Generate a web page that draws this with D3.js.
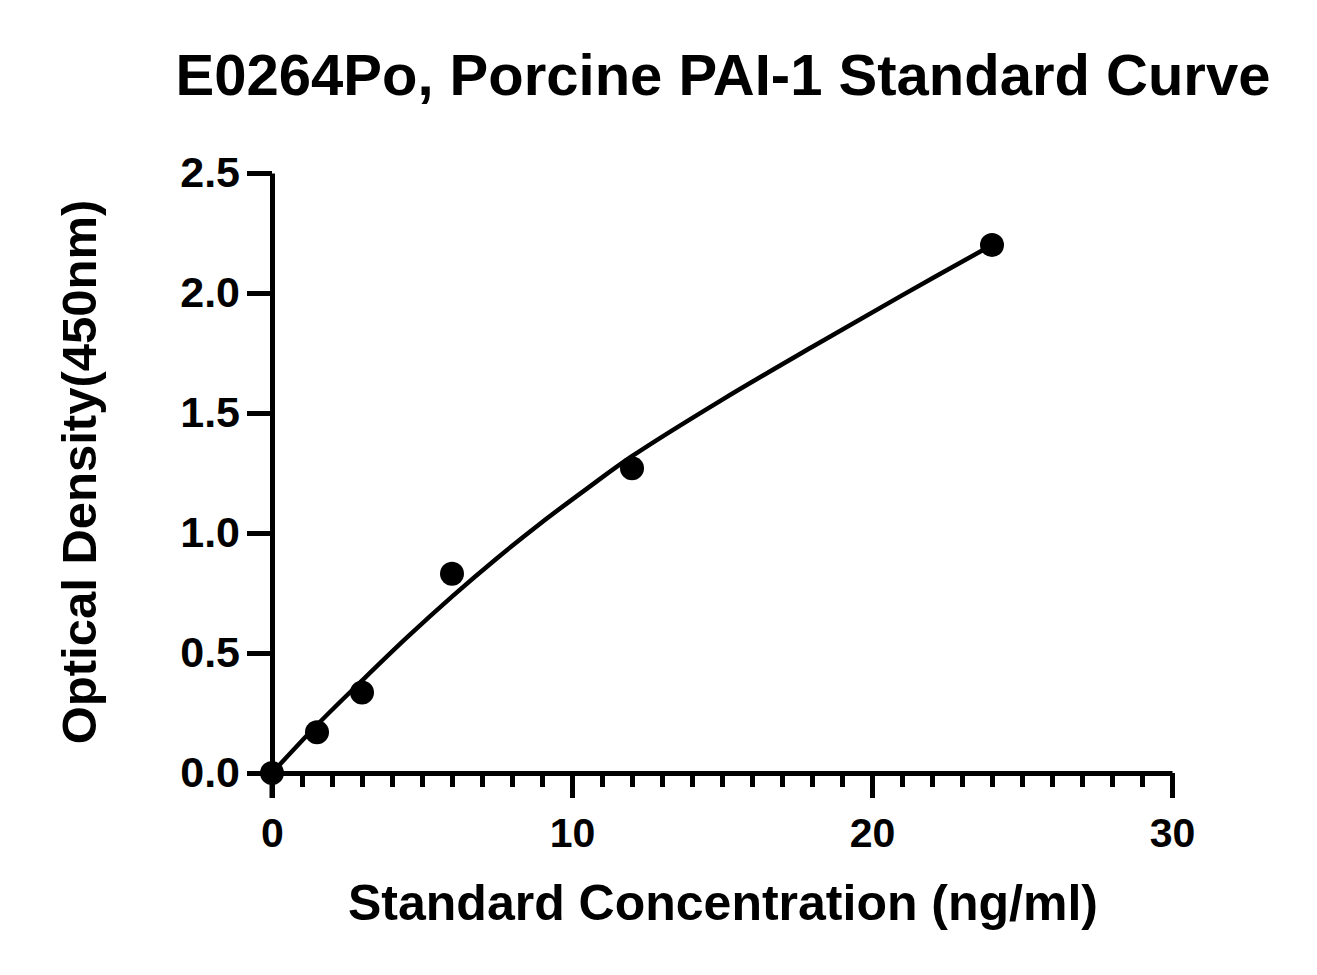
<!DOCTYPE html>
<html>
<head>
<meta charset="utf-8">
<script src="https://cdn.jsdelivr.net/npm/d3@7"></script>
<style>
  body { margin: 0; background: #fff; }
  text { font-family: "Liberation Sans", Arial, sans-serif; font-weight: bold; fill: #000; }
</style>
</head>
<body>
<div id="main"></div>
<script>
// standard points
var conc = [0, 1.5, 3, 6, 12, 24];
var od = [0.0, 0.17, 0.335, 0.83, 1.27, 2.2];

// fitted curve
var fitX = [0, 1.5, 3, 4.5, 6, 7.5, 9, 10.5, 12, 15, 18, 21, 24];
var fitY = [0, 0.2, 0.385, 0.565, 0.735, 0.895, 1.045, 1.185, 1.32, 1.555, 1.775, 1.99, 2.2];

var xMajor = [0, 10, 20, 30];
var xMinor = d3.range(0, 31).filter(function(d) { return d % 10 != 0; });
var yTicks = [0, 0.5, 1.0, 1.5, 2.0, 2.5];

var title = "E0264Po, Porcine PAI-1 Standard Curve";
var xTitle = "Standard Concentration (ng/ml)";
var yTitle = "Optical Density(450nm)";

var width = 1317, height = 975;

var svg = d3.select("#main").append("svg")
	.attr("width", width)
	.attr("height", height);

var x = d3.scaleLinear().domain([0, 30]).range([272, 1172]);
var y = d3.scaleLinear().domain([0, 2.5]).range([773, 173]);

// title
svg.append("text")
	.attr("x", 723)
	.attr("y", 95)
	.attr("text-anchor", "middle")
	.style("font-size", "58px")
	.text(title);

// minor x ticks first, then major axis over them
var xMinorAxis = svg.append("g")
	.attr("transform", "translate(0," + y(0) + ")")
	.call(d3.axisBottom(x).tickValues(xMinor).tickSize(14).tickSizeOuter(0).tickFormat(""));
xMinorAxis.select(".domain").remove();
xMinorAxis.selectAll("line").attr("stroke", "#000").attr("stroke-width", 5);

var xAxis = svg.append("g")
	.attr("transform", "translate(0," + y(0) + ")")
	.call(d3.axisBottom(x).tickValues(xMajor).tickSize(25).tickSizeOuter(0).tickPadding(20));
xAxis.select(".domain").attr("stroke-width", 5);
xAxis.selectAll("line").attr("stroke-width", 5);
xAxis.selectAll("text")
	.style("font-size", "41px")
	.style("font-family", "'Liberation Sans', Arial, sans-serif")
	.style("font-weight", "bold");

var yAxis = svg.append("g")
	.attr("transform", "translate(" + x(0) + ",0)")
	.call(d3.axisLeft(y).tickValues(yTicks).tickSize(25).tickSizeOuter(0).tickPadding(7)
		.tickFormat(d3.format(".1f")));
yAxis.select(".domain").attr("stroke-width", 5);
yAxis.selectAll("line").attr("stroke-width", 5);
yAxis.selectAll("text")
	.style("font-size", "43px")
	.style("font-family", "'Liberation Sans', Arial, sans-serif")
	.style("font-weight", "bold");

// extend y axis down to the bottom of x tick
svg.append("line")
	.attr("x1", x(0)).attr("x2", x(0))
	.attr("y1", y(0)).attr("y2", y(0) + 25)
	.attr("stroke", "#000").attr("stroke-width", 5);

// axis titles
svg.append("text")
	.attr("x", 723)
	.attr("y", 920)
	.attr("text-anchor", "middle")
	.style("font-size", "50px")
	.text(xTitle);

svg.append("text")
	.attr("transform", "translate(96," + 472 + ") rotate(-90)")
	.attr("text-anchor", "middle")
	.style("font-size", "49px")
	.text(yTitle);

// fitted curve
var fit = fitX.map(function(d, i) { return [d, fitY[i]]; });
var line = d3.line()
	.x(function(d) { return x(d[0]); })
	.y(function(d) { return y(d[1]); })
	.curve(d3.curveCatmullRom.alpha(0.5));

svg.append("path")
	.datum(fit)
	.attr("d", line)
	.attr("fill", "none")
	.attr("stroke", "#000")
	.attr("stroke-width", 4.5);

// points
svg.selectAll("circle.pt")
	.data(conc)
	.enter().append("circle")
	.attr("class", "pt")
	.attr("cx", function(d) { return x(d); })
	.attr("cy", function(d, i) { return y(od[i]); })
	.attr("r", 12)
	.attr("fill", "#000");
</script>
</body>
</html>
